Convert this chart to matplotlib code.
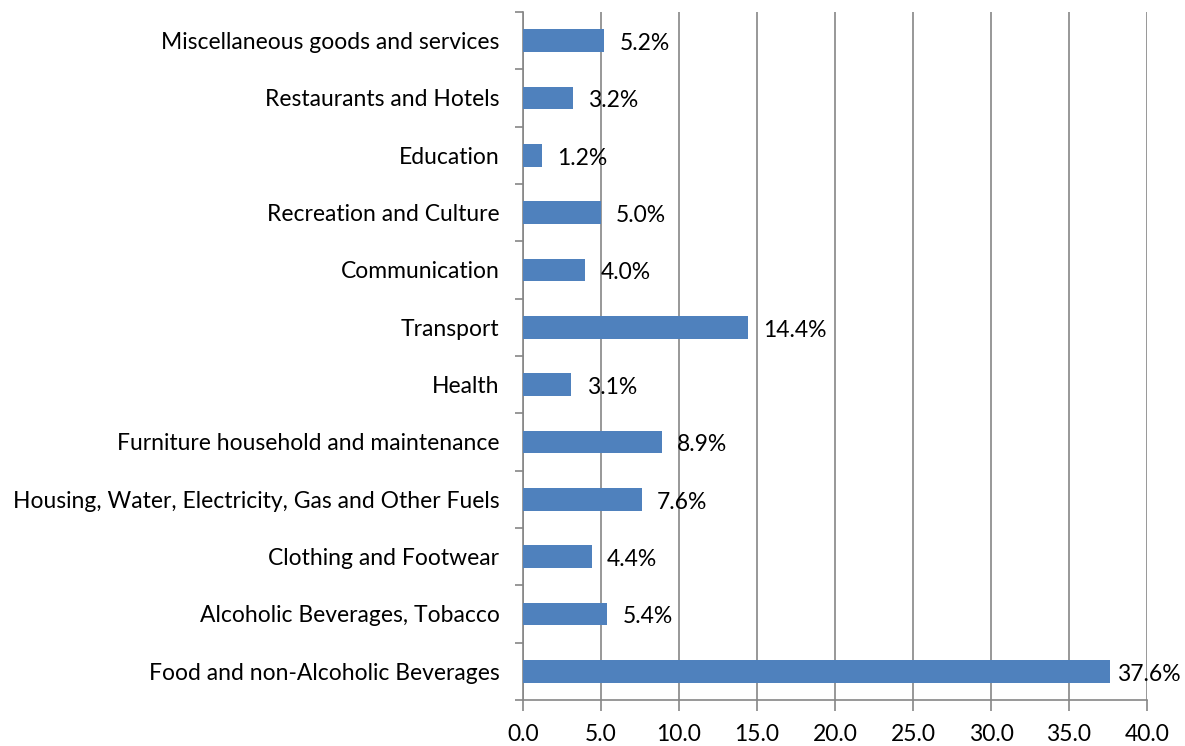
import matplotlib
matplotlib.use("Agg")
import matplotlib.pyplot as plt
from matplotlib.ticker import FixedLocator, NullFormatter

categories = [
    "Food and non-Alcoholic Beverages",
    "Alcoholic Beverages, Tobacco",
    "Clothing and Footwear",
    "Housing, Water, Electricity, Gas and Other Fuels",
    "Furniture household and maintenance",
    "Health",
    "Transport",
    "Communication",
    "Recreation and Culture",
    "Education",
    "Restaurants and Hotels",
    "Miscellaneous goods and services",
]
shares = [37.6, 5.4, 4.4, 7.6, 8.9, 3.1, 14.4, 4.0, 5.0, 1.2, 3.2, 5.2]
x_ticks = [0, 5, 10, 15, 20, 25, 30, 35, 40]

BAR = "#4F81BD"
GRID = "#868686"
FONT = "Lato"
FS = 16.5

fig = plt.figure(figsize=(11.85, 7.46), dpi=100)
ax = fig.add_axes([523 / 1185, 1 - 700 / 746, 624 / 1185, 688 / 746])

ypos = list(range(len(categories)))
ax.barh(ypos, shares, height=0.4, color=BAR, zorder=3)

ax.set_xlim(0, 40)
ax.set_ylim(-0.5, len(categories) - 0.5)
ax.xaxis.set_major_locator(FixedLocator(x_ticks))
ax.set_xticklabels([f"{t:.1f}" for t in x_ticks], fontsize=FS, family=FONT)
ax.grid(axis="x", color=GRID, linewidth=1.2, zorder=0)

ax.set_yticks(ypos)
ax.set_yticklabels(categories, fontsize=FS, family=FONT)
ax.tick_params(axis="y", which="major", length=0, pad=17)
ax.yaxis.set_minor_locator(FixedLocator([i - 0.5 for i in range(len(categories) + 1)]))
ax.yaxis.set_minor_formatter(NullFormatter())
ax.tick_params(axis="y", which="minor", length=6, width=1.2, color=GRID)
ax.tick_params(axis="x", length=8, width=1.2, color=GRID, pad=9)

for side in ("top", "right"):
    ax.spines[side].set_visible(False)
for side in ("left", "bottom"):
    ax.spines[side].set_color(GRID)
    ax.spines[side].set_linewidth(1.2)

labels = []
for y, v in zip(ypos, shares):
    t = ax.annotate(f"{v:.1f}%", xy=(v, y), xytext=(11, -2), textcoords="offset points",
                    ha="left", va="center", fontsize=FS, family=FONT, color="black",
                    zorder=4)
    labels.append(t)

# keep value labels inside the figure
fig.canvas.draw()
renderer = fig.canvas.get_renderer()
fw = fig.bbox.width
for t in labels:
    bb = t.get_window_extent(renderer)
    if bb.x1 > fw - 4:
        dx = (bb.x1 - (fw - 4)) * 72 / fig.dpi
        ox, oy = t.xyann
        t.xyann = (ox - dx, oy)

fig.savefig("out.png", dpi=100)
